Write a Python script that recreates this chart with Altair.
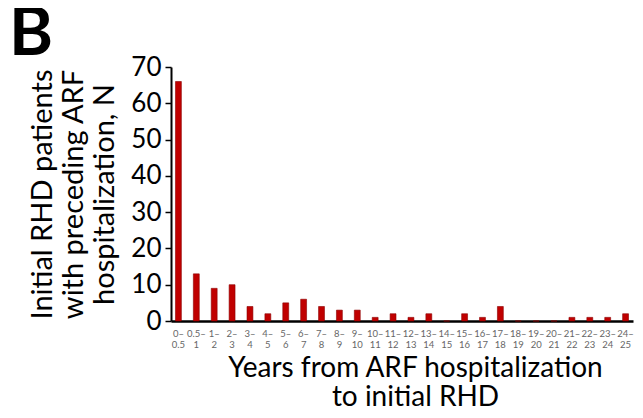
import altair as alt
import pandas as pd

categories = ["0–0.5", "0.5–1", "1–2", "2–3", "3–4", "4–5", "5–6", "6–7", "7–8",
              "8–9", "9–10", "10–11", "11–12", "12–13", "13–14", "14–15", "15–16",
              "16–17", "17–18", "18–19", "19–20", "20–21", "21–22", "22–23",
              "23–24", "24–25"]
counts = [66, 13, 9, 10, 4, 2, 5, 6, 4, 3, 3, 1, 2, 1, 2, 0, 2, 1, 4, 0, 0, 0, 1, 1, 1, 2]
y_ticks = [0, 10, 20, 30, 40, 50, 60, 70]
panel_label = ["B"]

df = pd.DataFrame({"cat": categories, "n": counts})

FONT = "Lato"

bars = alt.Chart(df).mark_bar(
    color="#C00000", stroke="#8B0000", strokeWidth=0.6
).encode(
    x=alt.X("cat:N", sort=categories,
            scale=alt.Scale(paddingInner=0.67, paddingOuter=0.25),
            axis=alt.Axis(
                title=["Years from ARF hospitalization", "to initial RHD"],
                titleFont=FONT, titleFontSize=28, titleFontWeight="normal",
                titleColor="black", titleLineHeight=29,
                titleX=244, titleY=33, titleBaseline="top", titleAnchor="middle",
                titleAlign="center",
                labelExpr="[split(datum.value, '–')[0] + '–', split(datum.value, '–')[1]]",
                labelAngle=0, labelFont=FONT, labelFontSize=9.5, labelColor="#666666",
                labelLineHeight=11, labelPadding=7,
                ticks=False, domainColor="black", domainWidth=2.5,
            )),
    y=alt.Y("n:Q", scale=alt.Scale(domain=[0, 70], nice=False),
            axis=alt.Axis(
                values=y_ticks, grid=False,
                title=["Initial RHD patients", "with preceding ARF", "hospitalization, N"],
                titleFont=FONT, titleFontSize=29, titleFontWeight="normal",
                titleColor="black", titleLineHeight=31,
                titleX=-114, titleY=127, titleBaseline="bottom", titleAngle=-90,
                titleAlign="center",
                labelFont=FONT, labelFontSize=26, labelColor="black", labelPadding=4,
                tickSize=6, tickColor="black", tickWidth=1.5,
                domainColor="black", domainWidth=2,
            )),
)

label = alt.Chart(pd.DataFrame({"t": panel_label})).mark_text(
    font=FONT, fontSize=67, fontWeight="bold", color="black",
    align="left", baseline="alphabetic"
).encode(text="t:N", x=alt.value(-162), y=alt.value(-12))

chart = alt.layer(bars, label).properties(
    width=462, height=254,
    autosize=alt.AutoSizeParams(type="none"),
    padding={"left": 163, "top": 59, "right": 2, "bottom": 89},
).configure_view(stroke=None)

chart.save("out.html", embed_options={"renderer": "svg", "actions": False})
